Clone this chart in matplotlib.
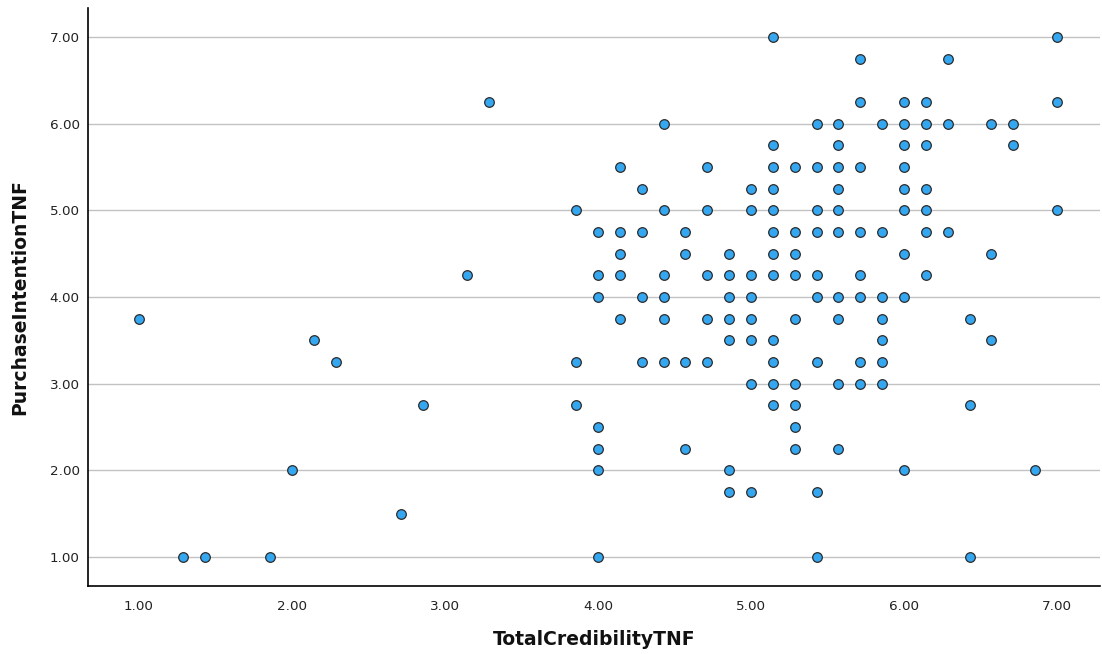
import matplotlib
matplotlib.use("Agg")
import matplotlib.pyplot as plt

# TotalCredibilityTNF values (columns) and the PurchaseIntentionTNF values observed at each
credibility = [1.000, 1.286, 1.429, 1.857, 2.000, 2.143, 2.286, 2.714, 2.857, 3.143, 3.286,
               3.857, 4.000, 4.143, 4.286, 4.429, 4.571, 4.714, 4.857, 5.000, 5.143,
               5.286, 5.429, 5.571, 5.714, 5.857, 6.000, 6.143, 6.286, 6.429, 6.571,
               6.714, 6.857, 7.000]
intention = [
    [3.75],
    [1.00],
    [1.00],
    [1.00],
    [2.00],
    [3.50],
    [3.25],
    [1.50],
    [2.75],
    [4.25],
    [6.25],
    [5.00, 3.25, 2.75],
    [4.75, 4.25, 4.00, 2.50, 2.25, 2.00, 1.00],
    [5.50, 4.75, 4.50, 4.25, 3.75],
    [5.25, 4.75, 4.00, 3.25],
    [6.00, 5.00, 4.25, 4.00, 3.75, 3.25],
    [4.75, 4.50, 3.25, 2.25],
    [5.50, 5.00, 4.25, 3.75, 3.25],
    [4.50, 4.25, 4.00, 3.75, 3.50, 2.00, 1.75],
    [5.25, 5.00, 4.25, 4.00, 3.75, 3.50, 3.00, 1.75],
    [7.00, 5.75, 5.50, 5.25, 5.00, 4.75, 4.50, 4.25, 3.50, 3.25, 3.00, 2.75],
    [5.50, 4.75, 4.50, 4.25, 3.75, 3.00, 2.75, 2.50, 2.25],
    [6.00, 5.50, 5.00, 4.75, 4.25, 4.00, 3.25, 1.75, 1.00],
    [6.00, 5.75, 5.50, 5.25, 5.00, 4.75, 4.00, 3.75, 3.00, 2.25],
    [6.75, 6.25, 5.50, 4.75, 4.25, 4.00, 3.25, 3.00],
    [6.00, 4.75, 4.00, 3.75, 3.50, 3.25, 3.00],
    [6.25, 6.00, 5.75, 5.50, 5.25, 5.00, 4.50, 4.00, 2.00],
    [6.25, 6.00, 5.75, 5.25, 5.00, 4.75, 4.25],
    [6.75, 6.00, 4.75],
    [3.75, 2.75, 1.00],
    [6.00, 4.50, 3.50],
    [6.00, 5.75],
    [2.00],
    [7.00, 6.25, 5.00],
]

x_ticks = [1, 2, 3, 4, 5, 6, 7]
y_ticks = [1, 2, 3, 4, 5, 6, 7]
x_label = "TotalCredibilityTNF"
y_label = "PurchaseIntentionTNF"

xs, ys = [], []
for cx, col in zip(credibility, intention):
    for v in col:
        xs.append(cx)
        ys.append(v)

fig = plt.figure(figsize=(11.02, 6.54), dpi=100)
ax = fig.add_axes([88 / 1102, 1 - 586 / 654, (1100 - 88) / 1102, (586 - 8) / 654])

ax.set_xlim(0.667, 7.281)
ax.set_ylim(0.665, 7.335)

ax.set_axisbelow(True)
ax.yaxis.grid(True, color="#c2c2c2", linewidth=1.0)
ax.xaxis.grid(False)

ax.scatter(xs, ys, s=48, facecolor="#35a7f0", edgecolor="#2b2b2b",
           linewidths=0.9, zorder=3)

for side in ["top", "right"]:
    ax.spines[side].set_visible(False)
for side in ["left", "bottom"]:
    ax.spines[side].set_color("black")
    ax.spines[side].set_linewidth(1.2)

ax.set_xticks(x_ticks)
ax.set_yticks(y_ticks)
ax.set_xticklabels([f"{t:.2f}" for t in x_ticks])
ax.set_yticklabels([f"{t:.2f}" for t in y_ticks])
ax.tick_params(axis="x", length=0, pad=10, labelsize=9.7, labelcolor="#222222")
ax.tick_params(axis="y", length=0, pad=6, labelsize=9.7, labelcolor="#222222")

ax.set_xlabel(x_label, fontsize=13.5, fontweight="bold", labelpad=12, color="#111111")
ax.set_ylabel(y_label, fontsize=13.5, fontweight="bold", labelpad=15, color="#111111")

fig.savefig("out.png", dpi=100)
